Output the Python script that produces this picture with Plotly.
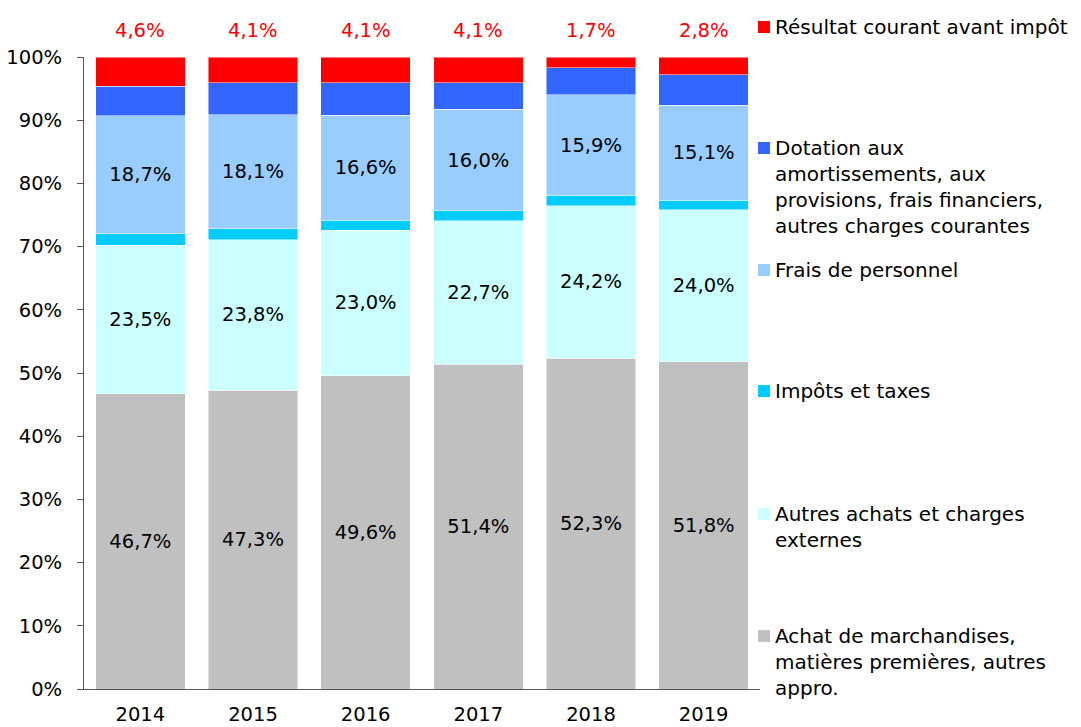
import plotly.graph_objects as go

years = ["2014", "2015", "2016", "2017", "2018", "2019"]
achat = [46.7, 47.3, 49.6, 51.4, 52.3, 51.8]
autres = [23.5, 23.8, 23.0, 22.7, 24.2, 24.0]
impots = [1.8, 1.7, 1.6, 1.6, 1.6, 1.5]
personnel = [18.7, 18.1, 16.6, 16.0, 15.9, 15.1]
dotation = [4.7, 5.0, 5.1, 4.2, 4.3, 4.8]
resultat = [4.6, 4.1, 4.1, 4.1, 1.7, 2.8]

names = [
    "Achat de marchandises,<br>matières premières, autres<br>appro.",
    "Autres achats et charges<br>externes",
    "Impôts et taxes",
    "Frais de personnel",
    "Dotation aux<br>amortissements, aux<br>provisions, frais financiers,<br>autres charges courantes",
    "Résultat courant avant impôt",
]
colors = ["#C0C0C0", "#CCFFFF", "#00CCFF", "#99CCFF", "#3366FF", "#FF0000"]
series = [achat, autres, impots, personnel, dotation, resultat]
show_labels = [True, True, False, True, False, False]

FONT = "DejaVu Sans"
FS = 19.5
LFS = 20

def fmt(v):
    return f"{v:.1f}".replace(".", ",") + "%"

fig = go.Figure()
for vals, name, col, lab in zip(series, names, colors, show_labels):
    kw = {}
    if lab:
        kw = dict(text=[fmt(v) for v in vals], textposition="inside",
                  insidetextanchor="middle",
                  textfont=dict(color="black", size=FS, family=FONT))
    fig.add_trace(go.Bar(x=years, y=vals, name=name, marker_color=col,
                         marker_line=dict(color="rgba(255,255,255,0.6)", width=0.8),
                         showlegend=False, **kw))

totals = [round(sum(s[i] for s in series), 1) for i in range(len(years))]

# résultat labels above bars (x given as category index)
for i, (tot, v) in enumerate(zip(totals, resultat)):
    fig.add_annotation(x=i, y=tot, xref="x", yref="y", text=fmt(v),
                       showarrow=False, yanchor="middle", yshift=27,
                       font=dict(color="#FF0000", size=FS, family=FONT))

# custom legend (screen-pixel layout: plot spans x 84..760, y 57..689)
PX0, PW, PY0, PH = 84, 676, 689, 632
legend_centers = [27, 148, 270, 391, 514, 636]
for (name, col), c in zip(list(zip(names, colors))[::-1], legend_centers):
    fig.add_annotation(x=(773 - PX0) / PW, y=(PY0 - (c - 14)) / PH,
                       xref="paper", yref="paper", text=name,
                       showarrow=False, xanchor="left", yanchor="top", align="left",
                       font=dict(color="black", size=LFS, family=FONT))
    fig.add_shape(type="rect", xref="paper", yref="paper",
                  x0=(758 - PX0) / PW, x1=(770 - PX0) / PW,
                  y0=(PY0 - (c + 6)) / PH, y1=(PY0 - (c - 6)) / PH,
                  fillcolor=col, line=dict(width=0))

fig.update_layout(
    width=1081, height=727,
    margin=dict(l=76, r=329, t=49, b=46, autoexpand=False),
    barmode="stack", bargap=0.205,
    plot_bgcolor="white", paper_bgcolor="white",
    font=dict(family=FONT, size=FS, color="black"),
    showlegend=False,
)
fig.update_yaxes(range=[0, 100], tickvals=list(range(0, 101, 10)),
                 ticktext=[f"{v}%" for v in range(0, 101, 10)],
                 showgrid=False, zeroline=False, automargin=False,
                 showline=True, linecolor="#595959", linewidth=1,
                 ticks="outside", ticklen=6, tickcolor="#595959",
                 ticklabelstandoff=11,
                 tickfont=dict(size=FS, family=FONT))
fig.update_xaxes(type="category", range=[-0.5, len(years) - 0.5],
                 showgrid=False, showline=True, automargin=False,
                 linecolor="#595959", linewidth=1,
                 ticks="", ticklabelstandoff=8,
                 tickfont=dict(size=FS, family=FONT))

fig.write_html("out.html")
